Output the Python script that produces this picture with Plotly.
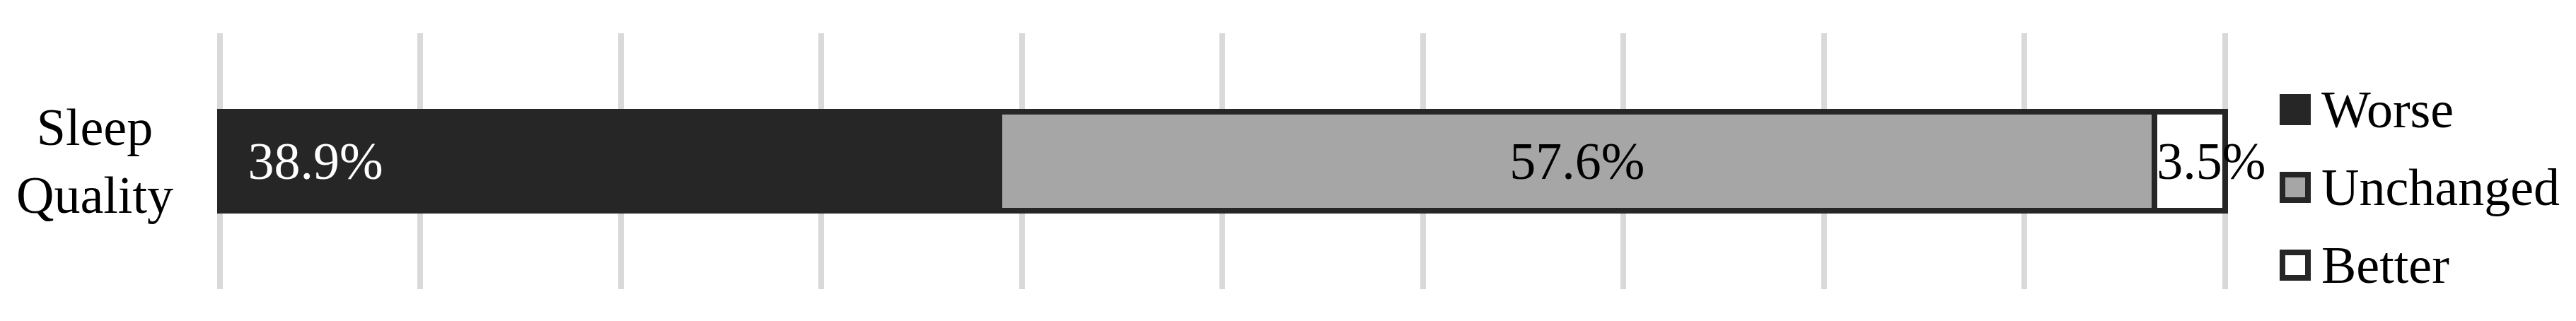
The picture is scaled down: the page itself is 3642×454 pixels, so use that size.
import plotly.graph_objects as go

# ---- data ----
categories = ["Sleep Quality"]
series_names = ["Worse", "Unchanged", "Better"]
worse = [38.9]
unchanged = [57.6]
better = [3.5]
series_values = [worse, unchanged, better]

# ---- styles ----
fill_colors = ["#262626", "#A6A6A6", "#FFFFFF"]
text_colors = ["#FFFFFF", "#000000", "#000000"]
text_anchor = ["start", "middle", "start"]
text_prefix = ["\u00a0\u00a0", "", ""]
outline = "#262626"
FONT = "Liberation Serif, Times New Roman, serif"
FS = 74

# page offset added by the default <body> margin
OX, OY = 8, 8
W, H = 3642 - 2 * OX, 454 - 2 * OY

# value axis: 0% at page x 311, 100% at page x 3145.5; small padding so the
# end gridlines are drawn in full
XMIN, XMAX, PAD = 0, 100, 0.3
X0PX, X1PX = 311.0, 3145.5
SCALE = (X1PX - X0PX) / (XMAX - XMIN)
left_px = X0PX - PAD * SCALE
right_px = X1PX + PAD * SCALE
top_px, bottom_px = 47, 409

L = left_px - OX
R = W - (right_px - OX)
T = top_px - OY
B = H - (bottom_px - OY)
PW, PH = W - L - R, H - T - B


def px2x(px):
    return (px - OX - L) / PW


def py2y(py):
    return (H - B - (py - OY)) / PH


fig = go.Figure()
for name, vals, fc, tc, anc, pre in zip(series_names, series_values, fill_colors,
                                        text_colors, text_anchor, text_prefix):
    fig.add_trace(go.Bar(
        y=categories, x=vals, name=name, orientation="h",
        marker=dict(color=fc, line=dict(color=outline, width=8)),
        text=[f"{pre}{v:.1f}%" for v in vals],
        textposition="inside", insidetextanchor=anc, textangle=0,
        constraintext="none", cliponaxis=False,
        insidetextfont=dict(family=FONT, size=FS, color=tc),
        showlegend=False, hoverinfo="x+name",
    ))

# category label (centered, two lines)
fig.add_annotation(x=px2x(135), xref="paper", y=categories[0], yref="y",
                   text="Sleep<br>Quality", showarrow=False, align="center",
                   xanchor="center", yanchor="middle",
                   font=dict(family=FONT, size=FS, color="#000000"))

# legend (large square swatches)
row0, row_gap, half = 155, 110, 18
for i, (name, fc) in enumerate(zip(series_names, fill_colors)):
    cy = row0 + i * row_gap
    fig.add_shape(type="rect", xref="paper", yref="paper",
                  x0=px2x(3227), x1=px2x(3263),
                  y0=py2y(cy + half), y1=py2y(cy - half),
                  line=dict(color=outline, width=8), fillcolor=fc, layer="above")
    fig.add_annotation(x=px2x(3280), xref="paper", y=py2y(cy), yref="paper",
                       text=name, showarrow=False, xanchor="left", yanchor="middle",
                       font=dict(family=FONT, size=FS, color="#000000"))

fig.update_layout(
    width=W, height=H, autosize=False,
    margin=dict(l=L, r=R, t=T, b=B, pad=0),
    barmode="stack", bargap=0.613,
    paper_bgcolor="#FFFFFF", plot_bgcolor="#FFFFFF",
    font=dict(family=FONT, size=FS, color="#000000"),
    showlegend=False,
)
fig.update_xaxes(range=[XMIN - PAD, XMAX + PAD], tick0=0, dtick=10, showgrid=True,
                 gridcolor="#D9D9D9", gridwidth=8, zeroline=False, showline=False,
                 showticklabels=False, ticks="", fixedrange=True)
fig.update_yaxes(showgrid=False, zeroline=False, showline=False,
                 showticklabels=False, ticks="", fixedrange=True)

fig.write_html("out.html")
